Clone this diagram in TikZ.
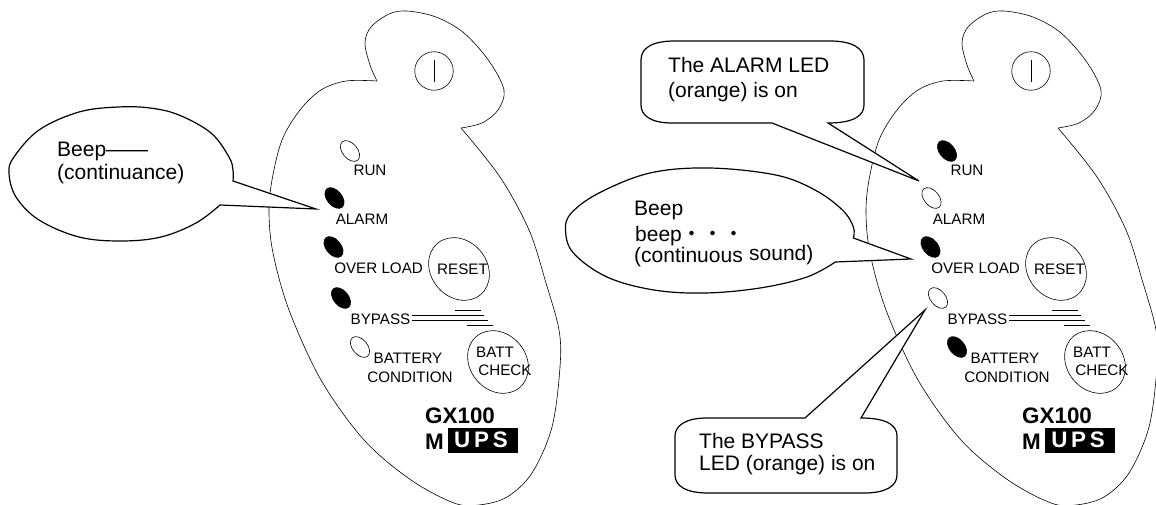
\documentclass[tikz,border=0pt]{standalone}
\usepackage{fontspec}
\setmainfont{Liberation Sans}
\newfontfamily\cjk{Noto Sans CJK JP}
\usetikzlibrary{shapes.geometric}
\tikzset{
  outline/.style={draw=black,line width=.6pt},
  bubble/.style={draw=black,fill=white,line width=1.2pt,line join=miter},
  led/.style={ellipse,draw=black,line width=.6pt,minimum width=24pt,minimum height=15pt,inner sep=0pt,outer sep=0pt,rotate=-50},
  btn/.style={ellipse,draw=black,line width=.6pt,inner sep=0pt,outer sep=0pt,rotate=-50},
  lbl/.style={anchor=base,inner sep=0pt,font=\fontsize{15.2}{18}\selectfont},
  say/.style={anchor=base west,inner sep=0pt,font=\fontsize{21}{24}\selectfont},
  big/.style={anchor=base west,inner sep=0pt,font=\fontsize{22.4}{26}\selectfont\bfseries},
  rail/.style={draw=black,line width=.6pt}
}
\newcommand{\panel}[7]{%
\begin{scope}[shift={(#2,0)},name prefix=#1-]
  \draw[outline] plot[smooth,tension=.55] coordinates {(377,81)(370,65)(365,43)(371,27)(389,14)(407,11)(436,17)(464,33)(489,61)(504,90)(498,110)(482,123)(461,128)};
  \draw[outline] plot[smooth,tension=.55] coordinates {(461,128)(500,177)(529,230)(546,283)(559,330)(560,367)(552,427)(532,473)(507,497)(479,505)(454,503)(411,480)(364,440)(321,380)(289,310)(273,253)(269,213)(272,180)(282,140)(300,110)(321,90)(346,81)(377,81)};
  \node[ellipse,draw=black,line width=.6pt,minimum size=38.5pt,inner sep=0pt] (power) at (434,71) {};
  \draw[line width=.6pt] (434,60) -- (434,82);
  \node[led,fill=#3] (run) at (350,151) {};
  \node[led,fill=#4] (alarm) at (334.5,198) {};
  \node[led,fill=#5] (over) at (333.5,247) {};
  \node[led,fill=#6] (bypass) at (341,298) {};
  \node[led,fill=#7] (batt) at (360,347) {};
  \node[btn,minimum width=67pt,minimum height=56pt] (reset) at (459,269) {};
  \node[btn,minimum width=67pt,minimum height=56pt] (check) at (498,362) {};
  \node[lbl] (t1) at (370,176) {RUN};
  \node[lbl] (t2) at (362,224) {ALARM};
  \node[lbl] (t3) at (378.6,273) {OVER LOAD};
  \node[lbl] (t4) at (462.5,274) {RESET};
  \node[lbl] (t5) at (380.5,324) {BYPASS};
  \node[lbl] (t6) at (408,363) {BATTERY};
  \node[lbl] (t7) at (410,382) {CONDITION};
  \node[lbl] (t8) at (495,357) {BATT};
  \node[lbl] (t9) at (505,375) {CHECK};
  \draw[rail] (455,310.3) -- (481,310.3);
  \draw[rail] (412,315) -- (484,315);
  \draw[rail] (412,320) -- (488,320);
  \draw[rail] (467,325) -- (493,325);
  \node[big] (gx) at (425,423) {GX100};
  \node[big] (m) at (425,449) {M};
  \fill[black] (448,428) rectangle (518,453);
  \node[anchor=base,inner sep=0pt,text=white,font=\fontsize{22.4}{26}\selectfont\bfseries] (ups) at (481,447.5) {U\,P\,S};
\end{scope}}
\begin{document}
\begin{tikzpicture}[x=1pt,y=-1pt]
\clip (0,0) rectangle (1156,505);
\fill[white] (0,0) rectangle (1156,505);
\panel{L}{0}{white}{black}{black}{black}{white}
\panel{R}{597}{black}{white}{black}{white}{black}
% left bubble
\draw[bubble] plot[smooth,tension=.6] coordinates {(233,181)(233,170)(229,157)(211,133)(179,115)(150,108)(118,107)(79,112)(39,130)(14,157)(9,173)(16,197)(39,220)(79,237)(121,241)(161,237)(196,223)(220,205)} -- (316,209) -- cycle;
\node[say] (s1) at (57,157) {Beep——};
\node[say] (s2) at (57,180) {(continuance)};
% alarm callout
\draw[bubble] (828,123) -- (919,181) -- (772,123) -- (672,123) .. controls (650,123) and (641,115) .. (641,105) -- (641,60) .. controls (641,48) and (652,41) .. (675,41) -- (830,41) .. controls (852,41) and (864,48) .. (864,60) -- (864,105) .. controls (864,115) and (855,123) .. (828,123) -- cycle;
\node[say] (s3) at (668,73) {The ALARM LED};
\node[say] (s4) at (668,98) {(orange) is on};
% beep bubble
\draw[bubble] plot[smooth,tension=.6] coordinates {(853.4,238)(853.4,227)(842.4,210)(815,190)(775.7,175)(709,168)(650,173)(599,193)(571.4,213)(565.5,230)(573.4,253)(607,277)(654,290)(705,293)(760,288)(807,277)(835.4,262)} -- (911,259) -- cycle;
\node[say] (s5) at (634,215) {Beep};
\node[say] (s6) at (635,241) {beep{\cjk ・・・}};
\node[say] (s7) at (634,262) {(continuous};
\node[say] (s8) at (749,260) {sound)};
% bypass callout
\draw[bubble] (861,418) -- (925,310) -- (805,418) -- (707,418) .. controls (685,418) and (675,426) .. (675,436) -- (675,475) .. controls (675,486) and (686,493) .. (708,493) -- (864,493) .. controls (886,493) and (897,486) .. (897,475) -- (897,436) .. controls (897,426) and (888,418) .. (861,418) -- cycle;
\node[say] (s9) at (699,448) {The BYPASS};
\node[say] (s10) at (699,470) {LED (orange) is on};
\end{tikzpicture}
\end{document}
